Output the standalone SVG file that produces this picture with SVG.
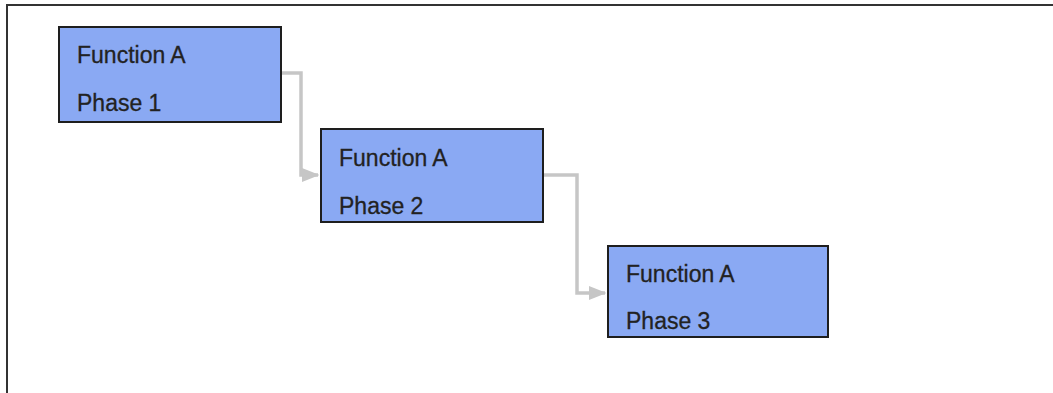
<svg xmlns="http://www.w3.org/2000/svg" width="1053" height="393" viewBox="0 0 1053 393">
  <defs>
    <marker id="arrow" markerWidth="5" markerHeight="4" refX="4.6" refY="2" orient="auto" markerUnits="strokeWidth">
      <path d="M0,0 L5,2 L0,4 Z" fill="#c6c6c6"/>
    </marker>
    <style>
      .frame { stroke: #333; stroke-width: 2; fill: none; }
      .box { fill: #8aa9f3; stroke: #1e1e1e; stroke-width: 2; }
      .label { font-family: "Liberation Sans", Arial, sans-serif; font-size: 23px; fill: #222; stroke: #222; stroke-width: 0.3; }
      .link { fill: none; stroke: #c6c6c6; stroke-width: 3.5; marker-end: url(#arrow); }
    </style>
  </defs>
  <rect width="1053" height="393" fill="#ffffff"/>
  <!-- outer frame: top and left edges -->
  <g id="frame">
    <line class="frame" x1="6" y1="5" x2="1053" y2="5"/>
    <line class="frame" x1="7" y1="5" x2="7" y2="393"/>
  </g>
  <g id="connectors">
    <path class="link" d="M282,73 H301 V175 H318"/>
    <path class="link" d="M544,175 H577 V293 H605"/>
  </g>
  <g id="phase1">
    <rect class="box" x="59" y="27" width="222" height="95"/>
    <text class="label" x="77" y="63">Function A</text>
    <text class="label" x="77" y="111">Phase 1</text>
  </g>
  <g id="phase2">
    <rect class="box" x="321" y="129" width="222" height="93"/>
    <text class="label" x="339" y="166">Function A</text>
    <text class="label" x="339" y="214">Phase 2</text>
  </g>
  <g id="phase3">
    <rect class="box" x="608" y="246" width="220" height="91"/>
    <text class="label" x="626" y="282">Function A</text>
    <text class="label" x="626" y="329">Phase 3</text>
  </g>
</svg>
